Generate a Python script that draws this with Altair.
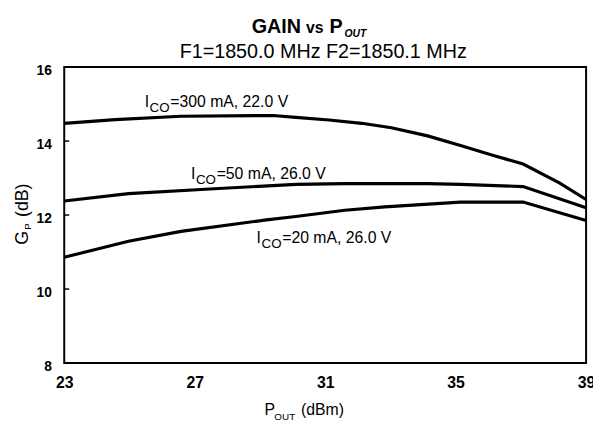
import altair as alt
import pandas as pd

FONT = "Liberation Sans"

# ---- data ----
series_names = ["300 mA, 22.0 V", "50 mA, 26.0 V", "20 mA, 26.0 V"]
p_300 = [23.0, 24.56, 26.58, 29.4, 30.1, 31.12, 32.12, 33.03, 34.14, 35.15, 36.16, 37.07, 38.18, 39.0]
g_300 = [14.48, 14.58, 14.67, 14.69, 14.64, 14.57, 14.48, 14.36, 14.14, 13.88, 13.61, 13.38, 12.87, 12.42]
p_50 = [23.0, 24.97, 27.6, 30.1, 31.6, 34.13, 35.15, 37.07, 39.0]
g_50 = [12.38, 12.58, 12.71, 12.83, 12.85, 12.85, 12.83, 12.77, 12.2]
p_20 = [23.0, 24.97, 26.58, 29.2, 30.1, 31.6, 32.83, 35.15, 37.07, 39.0]
g_20 = [10.86, 11.29, 11.56, 11.87, 11.96, 12.13, 12.22, 12.35, 12.35, 11.85]

x_ticks = [23, 27, 31, 35, 39]
y_ticks = [8, 10, 12, 14, 16]
inner_ticks = [10, 12, 14]

title_main = "GAIN"
title_vs = "vs"
title_p = "P"
title_sub = "OUT"
subtitle = "F1=1850.0 MHz F2=1850.1 MHz"
label_main = ["=300 mA, 22.0 V", "=50 mA, 26.0 V", "=20 mA, 26.0 V"]
label_I = "I"
label_sub = "CO"

rows = []
for name, ps, gs in zip(series_names, [p_300, p_50, p_20], [g_300, g_50, g_20]):
    for p, g in zip(ps, gs):
        rows.append({"series": name, "P": p, "G": g})
df = pd.DataFrame(rows)

W, H = 529, 300

xs = alt.Scale(domain=[23, 39], nice=False, zero=False)
ys = alt.Scale(domain=[8, 16], nice=False, zero=False)

lines = alt.Chart(df).mark_line(color="black", strokeWidth=3.2).encode(
    x=alt.X("P:Q", scale=xs,
            axis=alt.Axis(values=x_ticks, title=None, grid=False, domain=False, ticks=False,
                          tickSize=0, labelFontSize=16, labelFontWeight="bold", labelFont=FONT,
                          labelColor="black", labelPadding=12, labelFlush=False)),
    y=alt.Y("G:Q", scale=ys,
            axis=alt.Axis(values=y_ticks, title=None, grid=False, domain=False, ticks=False,
                          tickSize=0, labelFontSize=14, labelFontWeight="bold", labelFont=FONT,
                          labelColor="black", labelPadding=13, labelOffset=4, labelFlush=False)),
    detail="series:N",
    order=alt.Order("P:Q"),
)

tick_df = pd.DataFrame({"G": inner_ticks})
inner = alt.Chart(tick_df).mark_rule(color="black", strokeWidth=1.5).encode(
    y=alt.Y("G:Q", scale=ys), x=alt.value(0), x2=alt.value(5)
)


def txt(s, x, y, size, weight="normal", style="normal", angle=0):
    return alt.Chart(alt.Data(values=[{}])).mark_text(
        text=s, fontSize=size, fontWeight=weight, fontStyle=style, font=FONT,
        align="left", baseline="alphabetic", angle=angle, color="black"
    ).encode(x=alt.value(x), y=alt.value(y))


texts = [
    # title
    txt(title_main, 190, -35, 20, "bold"),
    txt(title_vs, 245, -35, 16, "bold"),
    txt(title_p, 269, -35, 20, "bold"),
    txt(title_sub, 284, -30.5, 10.5, "bold", "italic"),
    txt(subtitle, 117, -9, 20),
    # x title
    txt("P", 203, 353, 16),
    txt("OUT", 213, 358, 10),
    txt("(dBm)", 240, 353, 16),
    # y title (rotated)
    txt("G", -37, 180, 18, angle=270),
    txt("P", -34, 165, 10, angle=270),
    txt("(dB)", -37, 152, 18, angle=270),
]

lab_pos = [(81.5, 40.7), (128.5, 113.3), (195, 178.3)]
for (lx, ly), main in zip(lab_pos, label_main):
    texts.append(txt(label_I, lx, ly, 16))
    texts.append(txt(label_sub, lx + 5, ly + 5.2, 13.5))
    texts.append(txt(main, lx + 26, ly, 16))

chart = alt.layer(lines, inner, *texts).properties(
    width=W, height=H,
    autosize=alt.AutoSizeParams(type="none"),
    padding={"left": 57, "top": 57, "right": 7, "bottom": 65},
    background="white",
).configure_view(stroke="black", strokeWidth=2)

chart.save("out.html", embed_options={"renderer": "svg", "actions": False})
